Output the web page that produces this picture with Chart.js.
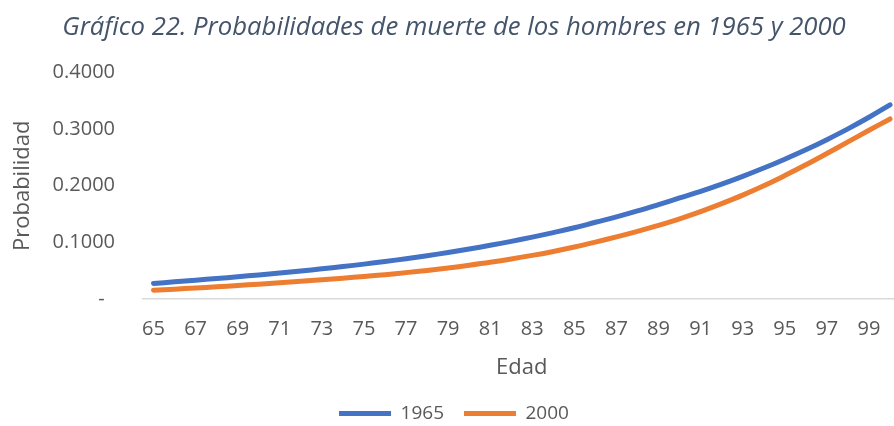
<!DOCTYPE html>
<html>
<head>
<meta charset="utf-8">
<script src="https://cdn.jsdelivr.net/npm/chart.js@4.4.0/dist/chart.umd.min.js"></script>
<style>
  html, body { margin: 0; padding: 0; background: #fff; overflow: hidden; }
  #wrap { width: 894px; height: 426px; overflow: hidden; }
</style>
</head>
<body>
<div id="wrap"><canvas id="chart" width="908" height="426"></canvas></div>
<script>
// Edad (categorias del eje X)
const ages = [];
for (let a = 65; a <= 100; a++) ages.push(a);

// Probabilidad de muerte, hombres 1965
const q1965 = [
  0.0275, 0.0303, 0.0332, 0.0362, 0.0393, 0.0425, 0.0459, 0.0495, 0.0533, 0.0573,
  0.0616, 0.0662, 0.0712, 0.0765, 0.0822, 0.0883, 0.0948, 0.1018, 0.1093, 0.1173,
  0.1258, 0.1355, 0.1450, 0.1555, 0.1668, 0.1785, 0.1900, 0.2028, 0.2166, 0.2313,
  0.2470, 0.2636, 0.2815, 0.3005, 0.3210, 0.3430
];

// Probabilidad de muerte, hombres 2000
const q2000 = [
  0.0155, 0.0174, 0.0194, 0.0215, 0.0238, 0.0262, 0.0288, 0.0314, 0.0340, 0.0368,
  0.0398, 0.0430, 0.0466, 0.0505, 0.0548, 0.0596, 0.0648, 0.0706, 0.0770, 0.0840,
  0.0918, 0.1005, 0.1097, 0.1195, 0.1300, 0.1415, 0.1545, 0.1685, 0.1835, 0.2000,
  0.2180, 0.2370, 0.2570, 0.2775, 0.2980, 0.3180
];

const seriesNames = ["1965", "2000"];
const seriesColors = ["#4472C4", "#ED7D31"];

const txt = "#595959";

new Chart(document.getElementById("chart"), {
  type: "line",
  data: {
    labels: ages,
    datasets: [
      { label: seriesNames[0], data: q1965, borderColor: seriesColors[0], backgroundColor: seriesColors[0] },
      { label: seriesNames[1], data: q2000, borderColor: seriesColors[1], backgroundColor: seriesColors[1] },
    ],
  },
  options: {
    responsive: false,
    devicePixelRatio: 1,
    animation: false,
    elements: {
      point: { radius: 0 },
      line: { borderWidth: 5, tension: 0.4, borderCapStyle: "round" },
    },
    layout: { padding: { left: 0, right: 0, top: 0, bottom: -7 } },
    plugins: {
      tooltip: { enabled: false },
      title: {
        display: true,
        text: "Gráfico 22. Probabilidades de muerte de los hombres en 1965 y 2000",
        color: "#44546A",
        font: { family: "'Open Sans'", size: 25.7, style: "italic", weight: "normal", lineHeight: 1.15 },
        padding: { top: 13, bottom: 30 },
      },
      legend: {
        position: "bottom",
        labels: {
          color: txt,
          font: { family: "'Open Sans'", size: 19 },
          boxWidth: 52,
          boxHeight: 5,
          padding: 20,
          useBorderRadius: true,
          borderRadius: 2.5,
          generateLabels: (chart) => chart.data.datasets.map((ds, i) => ({
            text: ds.label,
            fillStyle: ds.borderColor,
            strokeStyle: ds.borderColor,
            lineWidth: 0,
            fontColor: txt,
            datasetIndex: i,
          })),
        },
      },
    },
    scales: {
      x: {
        offset: true,
        afterFit: (s) => { s.height = 85; },
        grid: { display: false, drawTicks: false },
        border: { display: true, color: "#D9D9D9", width: 1.5 },
        ticks: {
          autoSkip: false,
          maxRotation: 0,
          padding: 18,
          color: txt,
          font: { family: "'Open Sans'", size: 20 },
          callback: function (value, index) {
            const a = ages[index];
            return a % 2 === 1 ? String(a) : "";
          },
        },
        title: {
          display: true,
          text: "Edad",
          color: txt,
          font: { family: "'Open Sans'", size: 22 },
          padding: { top: 4, bottom: 3 },
        },
      },
      y: {
        min: 0,
        max: 0.4,
        afterFit: (s) => { s.width = 143; },
        grid: { display: false, drawTicks: false },
        border: { display: false },
        ticks: {
          stepSize: 0.1,
          padding: 28,
          color: txt,
          font: { family: "'Open Sans'", size: 20 },
          callback: (v) => (v === 0 ? "-  " : v.toFixed(4)),
        },
        title: {
          display: true,
          text: "Probabilidad",
          color: txt,
          font: { family: "'Open Sans'", size: 22 },
          padding: { top: 10, bottom: 10 },
        },
      },
    },
  },
});
</script>
</body>
</html>
